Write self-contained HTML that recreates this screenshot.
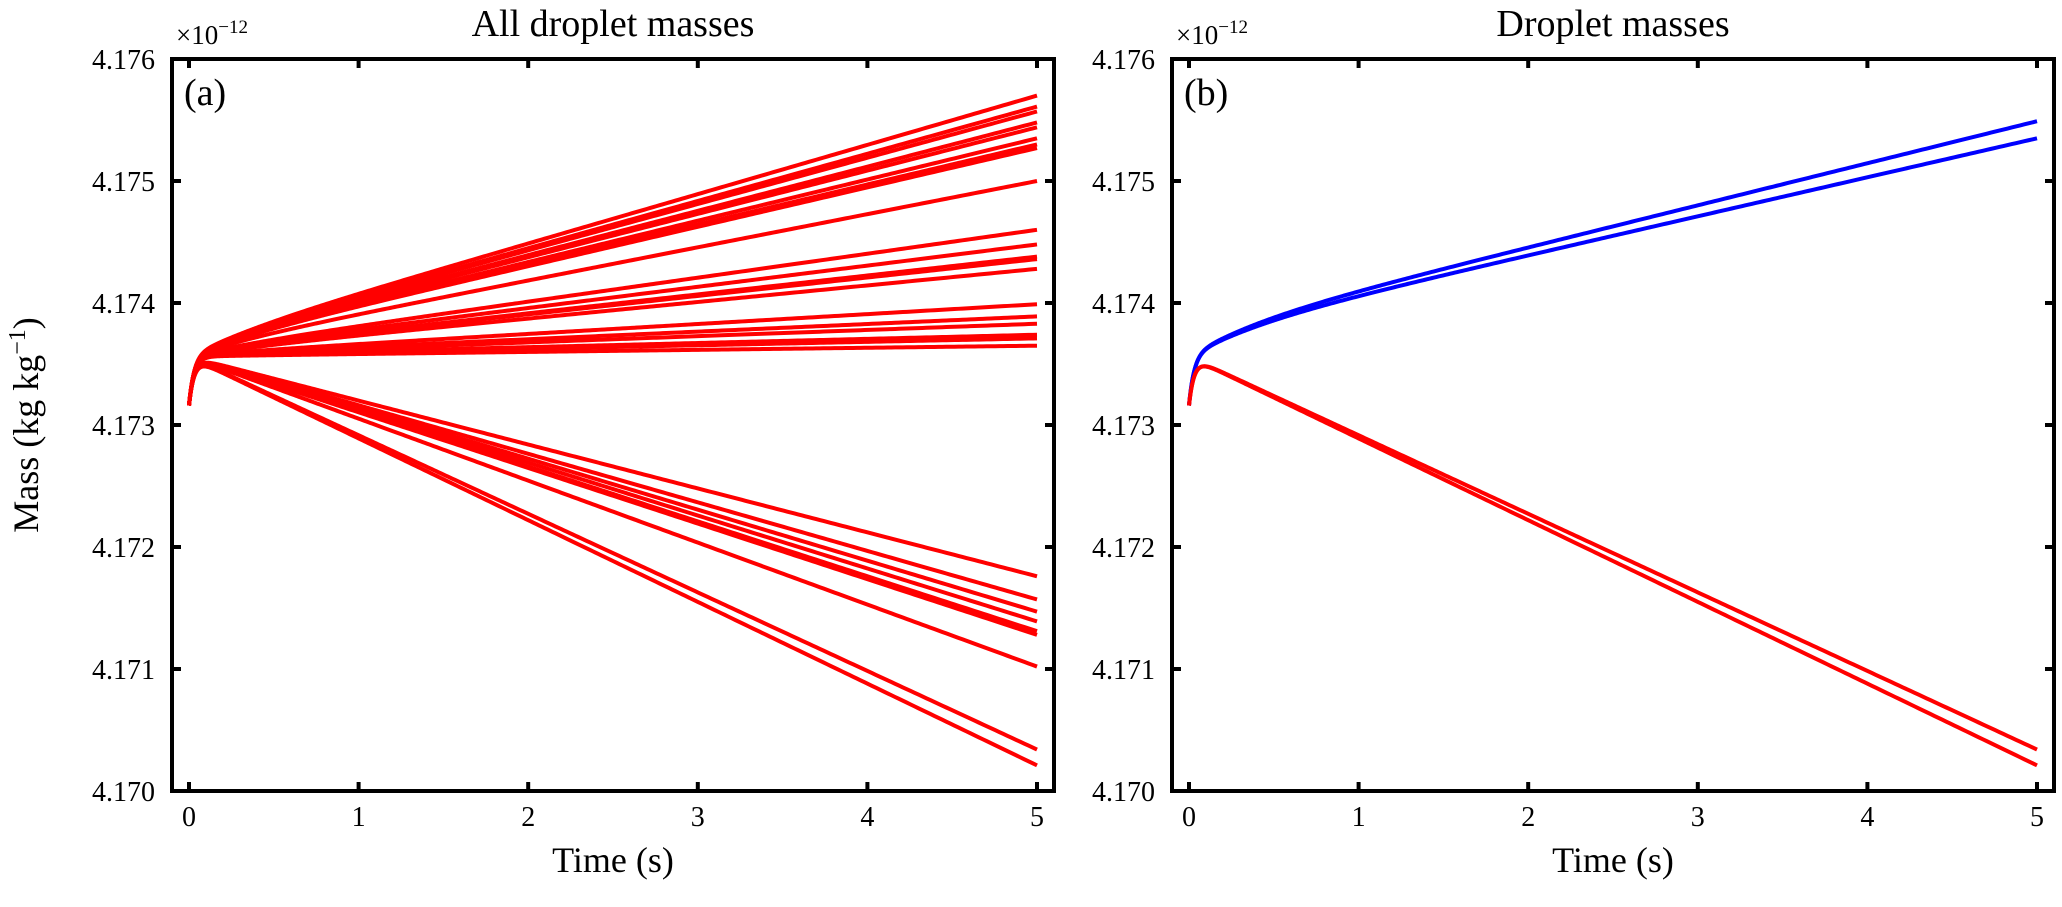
<!DOCTYPE html>
<html><head><meta charset="utf-8"><style>
html,body{margin:0;padding:0;background:#fff;}
svg{display:block;font-family:"Liberation Serif","DejaVu Serif",serif;}
</style></head><body>
<svg id="fig" width="2062" height="907" viewBox="0 0 2062 907" xmlns="http://www.w3.org/2000/svg"></svg>
<script>
// Data (values in kg/kg, x1e-12 omitted: 4.17xxx)
const xTicks = [0,1,2,3,4,5];
const yTicks = [4.170,4.171,4.172,4.173,4.174,4.175,4.176];
const startValue = 4.17316;
const plateauValue = 4.17356;
const endsA = [4.17570,4.17561,4.17557,4.17548,4.17544,4.17535,4.17530,4.17527,4.17500,4.17460,4.17448,4.17438,4.17436,4.17428,4.17399,4.17389,4.17383,4.17374,4.17371,4.17365,4.17176,4.17157,4.17147,4.17139,4.17131,4.17128,4.17102,4.17034,4.17021];
const endsBblue = [4.17549,4.17535];
const endsBred = [4.17034,4.17021];

const NS="http://www.w3.org/2000/svg";
const svg=document.getElementById('fig');
function el(tag,attrs,parent){const e=document.createElementNS(NS,tag);for(const k in attrs)e.setAttribute(k,attrs[k]);(parent||svg).appendChild(e);return e;}

function curve(t,end,kUp){
  const up=end>plateauValue;
  const k=up?kUp:0;
  const g=(t+k*(1-Math.exp(-t/0.4)))/(5+k);
  return startValue+(plateauValue-startValue)*(1-Math.exp(-t/0.03))+(end-plateauValue)*g;
}

function panel(cfg){
  const L=cfg.left,R=cfg.left+882,T=59,B=791;
  const x0=cfg.left+17, xs=169.6;
  const X=t=>x0+t*xs;
  const Y=v=>T+(4.176-v)*122000;
  const g=el('g',{});
  
  
  cfg.series.forEach((s,si)=>{
    s.ends.forEach((end,i)=>{
      let d='';
      for(let j=0;j<=400;j++){const t=5*Math.pow(j/400,2);d+=(j?'L':'M')+X(t).toFixed(2)+','+Y(curve(t,end,cfg.kUp)).toFixed(2);}
      const p=el('path',{d:d,fill:'none',stroke:s.color,'stroke-width':4},g);
      
      
    });
  });
  const fr=el('rect',{x:L,y:T,width:R-L,height:B-T,fill:'none',stroke:'#000','stroke-width':4},g);
  
  
  xTicks.forEach(t=>{
    el('line',{x1:X(t),x2:X(t),y1:B,y2:B-9,stroke:'#000','stroke-width':4},g);
    el('line',{x1:X(t),x2:X(t),y1:T,y2:T+9,stroke:'#000','stroke-width':4},g);
    const tx=el('text',{x:X(t),y:B+35,'font-size':28,'text-anchor':'middle'},g);
    tx.textContent=t;
    
    
  });
  yTicks.forEach(v=>{
    el('line',{x1:L,x2:L+9,y1:Y(v),y2:Y(v),stroke:'#000','stroke-width':4},g);
    el('line',{x1:R,x2:R-9,y1:Y(v),y2:Y(v),stroke:'#000','stroke-width':4},g);
    const tx=el('text',{x:L-17,y:Y(v)+10,'font-size':28,'text-anchor':'end'},g);
    tx.textContent=v.toFixed(3);
    
    
  });
  const ex=el('text',{x:L+4,y:44,'font-size':27},g);
  ex.innerHTML='×10<tspan dy="-11" font-size="19">−12</tspan>';
  
  
  const pl=el('text',{x:L+12,y:T+46,'font-size':38},g);
  pl.textContent=cfg.tag;
  
  
  const ti=el('text',{x:(L+R)/2,y:36,'font-size':38,'text-anchor':'middle'},g);
  ti.textContent=cfg.title;
  
  
  const xl=el('text',{x:(L+R)/2,y:872,'font-size':36,'text-anchor':'middle'},g);
  xl.textContent='Time (s)';
  
  
}
panel({left:172,kUp:0.3,name:'panel-a',tag:'(a)',title:'All droplet masses',series:[{color:'#ff0000',label:'droplet',ends:endsA}]});
panel({left:1172,kUp:0.6,name:'panel-b',tag:'(b)',title:'Droplet masses',series:[{color:'#0000ff',label:'growing-droplet',ends:endsBblue},{color:'#ff0000',label:'shrinking-droplet',ends:endsBred}]});
const yl=el('text',{x:0,y:0,'font-size':36,'text-anchor':'middle',transform:'translate(38,425) rotate(-90)'});
yl.innerHTML='Mass (kg kg<tspan dy="-13" font-size="24">−1</tspan><tspan dy="13">)</tspan>';


</script>
</body></html>
